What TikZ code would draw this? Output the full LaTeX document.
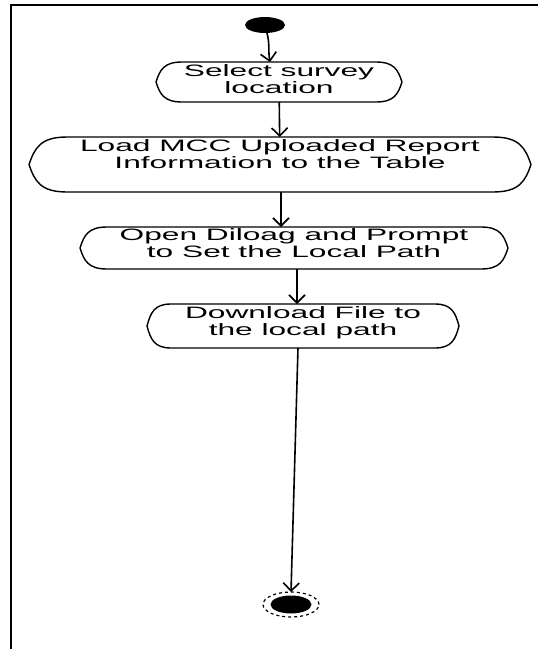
\documentclass[tikz,border=0pt]{standalone}
\usepackage{fontspec}
\newfontfamily\diagfont[FakeStretch=1.92]{Liberation Sans}
\usepackage{tikz}
\usetikzlibrary{positioning}
\usetikzlibrary{calc}
\usetikzlibrary{shapes.geometric}
\usetikzlibrary{arrows.meta}

% outline of an activity: flat top and bottom, curved pointed ends
\newcommand{\actframe}[2]{%
  \draw[actline] ($(#1.north west)+(#2,0)$) -- ($(#1.north east)+(-#2,0)$)
    .. controls ($(#1.north east)+(-0.3*#2,0)$) and ($(#1.east)!0.6!(#1.north east)+(-0.15*#2,0)$) .. (#1.east)
    .. controls ($(#1.east)!0.6!(#1.south east)+(-0.15*#2,0)$) and ($(#1.south east)+(-0.3*#2,0)$) .. ($(#1.south east)+(-#2,0)$)
    -- ($(#1.south west)+(#2,0)$)
    .. controls ($(#1.south west)+(0.3*#2,0)$) and ($(#1.west)!0.6!(#1.south west)+(0.15*#2,0)$) .. (#1.west)
    .. controls ($(#1.west)!0.6!(#1.north west)+(0.15*#2,0)$) and ($(#1.north west)+(0.3*#2,0)$) .. cycle;}

\begin{document}
\begin{tikzpicture}[x=1pt,y=-1pt,
      actnode/.style={rectangle,outer sep=0pt,inner sep=0pt,align=center,font=\diagfont\fontsize{16.5}{17}\selectfont},
      actline/.style={line width=1.4pt},
      startdot/.style={fill,ellipse,minimum width=40pt,minimum height=16pt,inner sep=0pt,outer sep=0pt},
      endring/.style={draw,dashed,ellipse,line width=1.2pt,minimum width=56pt,minimum height=25pt,inner sep=0pt,outer sep=0pt},
      endcore/.style={fill,ellipse,minimum width=41pt,minimum height=18pt,inner sep=0pt},
      flow/.style={line width=1.6pt,-{Straight Barb[length=8pt,width=16pt]}},
      frameline/.style={line width=2.5pt}]
    \useasboundingbox (0,0) rectangle (538,649);
    % Frame
    \draw[frameline] (10,5) -- (538,5);
    \draw[frameline] (11,5) -- (11,649);

    % Nodes
    \node[startdot] at (265,25)                                                                                (start)   {};
    \node[actnode,minimum width=246pt,minimum height=40pt,text depth=6pt,below=29pt of start,xshift=14pt]    (select)  {Select survey\\location};
    \node[actnode,minimum width=502pt,minimum height=55pt,text depth=20pt,below=35pt of select,xshift=1pt]   (load)    {Load MCC Uploaded Report\\Information to the Table};
    \node[actnode,minimum width=428pt,minimum height=42pt,text depth=10pt,below=35pt of load,xshift=14pt]    (dialog)  {Open Diloag and Prompt\\to Set the Local Path};
    \node[actnode,minimum width=312pt,minimum height=44pt,text depth=10.5pt,below=35pt of dialog,xshift=9pt] (download){Download File to\\the local path};
    \node[endring,below=244pt of download,xshift=-12pt]                                                        (stop)    {};
    \node[endcore] at (stop)                                                                                     (stopcore){};

    % Outlines
    \actframe{select}{26}
    \actframe{load}{38}
    \actframe{dialog}{27}
    \actframe{download}{24}

    % Arrows
    \draw[flow] ([xshift=2pt]start.south) to[out=-75,in=100] ([xshift=-9pt]select.north);
    \draw[flow] (select) -- (load);
    \draw[flow] ([xshift=1pt]load.south) -- ([xshift=-13pt]dialog.north);
    \draw[flow] ([xshift=3pt]dialog.south) -- ([xshift=-6pt]download.north);
    \draw[flow] ([xshift=-5pt]download.south) -- (stop.north);

  \end{tikzpicture}
\end{document}
